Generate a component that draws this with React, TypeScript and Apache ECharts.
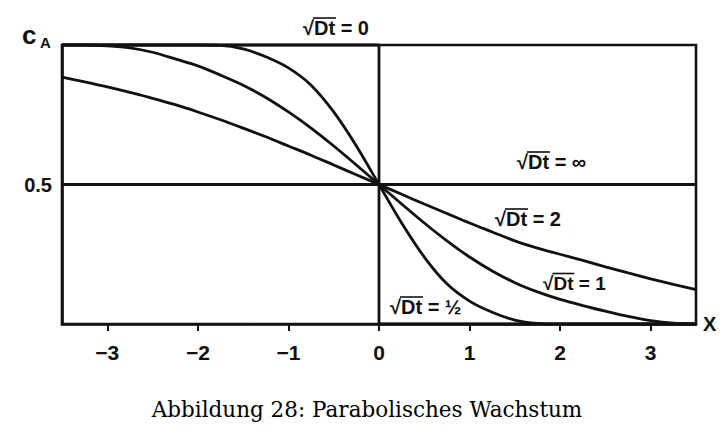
import React, { useEffect, useRef } from 'react';
import * as echarts from 'echarts';

// x positions (abscissa) shared by the three diffusion profiles
const xPositions = [
  -3.5, -3.25, -3.0, -2.75, -2.5, -2.25, -2.0, -1.75, -1.5, -1.25, -1.0, -0.75, -0.5, -0.25, 0,
  0.25, 0.5, 0.75, 1.0, 1.25, 1.5, 1.75, 2.0, 2.25, 2.5, 2.75, 3.0, 3.25, 3.5,
];
// c_A for sqrt(Dt) = 1/2
const cHalf = [
  1.0, 1.0, 1.0, 1.0, 1.0, 1.0, 1.0, 0.999, 0.986, 0.958, 0.918, 0.856, 0.76, 0.638, 0.5,
  0.362, 0.24, 0.144, 0.082, 0.042, 0.014, 0.002, 0.0, 0.0, 0.0, 0.0, 0.0, 0.0, 0.0,
];
// c_A for sqrt(Dt) = 1
const cOne = [
  1.0, 1.0, 0.997, 0.99, 0.974, 0.95, 0.925, 0.892, 0.856, 0.812, 0.76, 0.702, 0.638, 0.57, 0.5,
  0.43, 0.362, 0.298, 0.24, 0.19, 0.148, 0.115, 0.088, 0.066, 0.046, 0.027, 0.012, 0.003, 0.0,
];
// c_A for sqrt(Dt) = 2
const cTwo = [
  0.885, 0.868, 0.85, 0.83, 0.809, 0.786, 0.76, 0.732, 0.702, 0.671, 0.638, 0.605, 0.57, 0.535, 0.5,
  0.465, 0.43, 0.396, 0.362, 0.33, 0.298, 0.272, 0.25, 0.228, 0.205, 0.183, 0.162, 0.142, 0.123,
];
// sqrt(Dt) = 0 : step profile
const stepX = [-3.5, 0, 0, 3.5];
const stepC = [1, 1, 0, 0];
// sqrt(Dt) = infinity : flat profile
const flatX = [-3.5, 3.5];
const flatC = [0.5, 0.5];

const xTicks = [-3, -2, -1, 0, 1, 2, 3];
const yTicks = [0.5];

const labelZero = '√Dt = 0';
const labelInf = '√Dt = ∞';
const labelTwo = '√Dt = 2';
const labelOne = '√Dt = 1';
const labelHalf = '√Dt = ½';
const caption = 'Abbildung 28: Parabolisches Wachstum';

const INK = '#111';
const SANS = '"Liberation Sans", Arial, sans-serif';

const pairs = (xs: number[], ys: number[]) => xs.map((x, i) => [x, ys[i]]);

function curveLabel(text: string, x: number, y: number, size: number) {
  const rootW = size * 0.55;
  const barW = size * 1.1;
  return {
    type: 'group',
    x,
    y,
    children: [
      {
        type: 'text',
        style: { text, font: `bold ${size}px ${SANS}`, fill: INK, align: 'left', verticalAlign: 'middle' },
      },
      {
        type: 'line',
        shape: { x1: rootW - 1, y1: -size * 0.5, x2: rootW + barW, y2: -size * 0.5 },
        style: { stroke: INK, lineWidth: 1.6 },
      },
    ],
  };
}

export default function App() {
  const ref = useRef<HTMLDivElement>(null);
  useEffect(() => {
    if (!ref.current) return;
    const chart = echarts.init(ref.current, undefined, { renderer: 'svg' });
    const line = (name: string, data: number[][]) => ({
      name,
      type: 'line',
      data,
      smooth: data.length > 4 ? 0.3 : false,
      symbol: 'none',
      clip: false,
      lineStyle: { color: INK, width: 2.8 },
    });
    chart.setOption({
      animation: false,
      grid: {
        left: 62,
        right: 31,
        top: 45,
        bottom: 113,
        show: true,
        borderColor: INK,
        borderWidth: 2.6,
        backgroundColor: 'transparent',
      },
      xAxis: {
        type: 'value',
        min: -3.5,
        max: 3.5,
        name: 'X',
        nameLocation: 'end',
        nameGap: 7,
        nameTextStyle: { color: INK, fontFamily: SANS, fontWeight: 'bold', fontSize: 20, padding: [6, 0, 0, 0] },
        splitLine: { show: false },
        axisLine: { onZero: false, lineStyle: { color: INK, width: 2.6 } },
        axisTick: { show: true, customValues: xTicks, length: 7, lineStyle: { color: INK, width: 2 } },
        axisLabel: {
          customValues: xTicks,
          margin: 18,
          color: INK,
          fontFamily: SANS,
          fontWeight: 'bold',
          fontSize: 21,
          formatter: (v: number) => (v < 0 ? '−' + Math.abs(v) : String(v)),
        },
      },
      yAxis: {
        type: 'value',
        min: 0,
        max: 1,
        splitLine: { show: false },
        axisLine: { onZero: false, lineStyle: { color: INK, width: 2.6 } },
        axisTick: { show: false },
        axisLabel: {
          customValues: yTicks,
          margin: 10,
          color: INK,
          fontFamily: SANS,
          fontWeight: 'bold',
          fontSize: 20,
          formatter: (v: number) => String(v),
        },
      },
      series: [
        line('√Dt = 0', pairs(stepX, stepC)),
        line('√Dt = ∞', pairs(flatX, flatC)),
        line('√Dt = 1/2', pairs(xPositions, cHalf)),
        line('√Dt = 1', pairs(xPositions, cOne)),
        line('√Dt = 2', pairs(xPositions, cTwo)),
      ],
      graphic: [
        { type: 'text', x: 22, y: 35, style: { text: 'c', font: `bold 26px ${SANS}`, fill: INK, verticalAlign: 'middle' } },
        { type: 'text', x: 40, y: 42, style: { text: 'A', font: `bold 15px ${SANS}`, fill: INK, verticalAlign: 'middle' } },
        curveLabel(labelZero, 303, 28, 20),
        curveLabel(labelInf, 517, 162, 20),
        curveLabel(labelTwo, 495, 219, 20),
        curveLabel(labelOne, 543, 283, 19),
        curveLabel(labelHalf, 390, 307, 20),
        {
          type: 'text',
          x: 367,
          y: 409,
          style: {
            text: caption,
            font: `21.5px "DejaVu Serif", "Liberation Serif", serif`,
            fill: '#000',
            align: 'center',
            verticalAlign: 'middle',
          },
        },
      ],
    });
    return () => chart.dispose();
  }, []);
  return (
    <div
      ref={ref}
      style={{ position: 'fixed', left: 0, top: 0, width: 727, height: 437, background: '#fff' }}
    />
  );
}
